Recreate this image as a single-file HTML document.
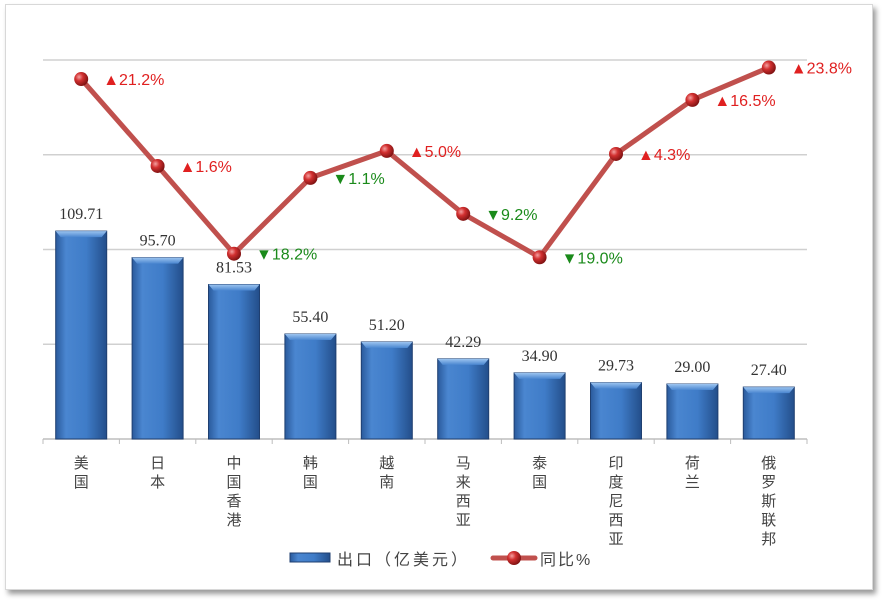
<!DOCTYPE html>
<html><head><meta charset="utf-8"><style>
body{margin:0;width:883px;height:602px;background:#fff;overflow:hidden;font-family:"Liberation Sans","Noto Sans CJK SC",sans-serif}
#frame{position:absolute;left:5px;top:4px;width:866px;height:584px;background:#fff;border:1px solid #d8d8d8;box-shadow:3px 4px 5px #9a9a9a}
svg{position:absolute;left:0;top:0}
</style></head><body>
<div id="frame"></div>
<svg id="c" width="883" height="602">
<defs>
<linearGradient id="bg" x1="0" x2="1" y1="0" y2="0">
<stop offset="0" stop-color="#2a5a9c"/><stop offset="0.2" stop-color="#4a86d0"/><stop offset="0.6" stop-color="#3f7cc8"/><stop offset="1" stop-color="#234e8a"/></linearGradient>
<linearGradient id="bt" x1="0" x2="0" y1="0" y2="1"><stop offset="0" stop-color="#9cc4f0"/><stop offset="1" stop-color="#4a86d0"/></linearGradient>
<radialGradient id="ball" cx="0.35" cy="0.35" r="0.7"><stop offset="0" stop-color="#f4a0a0"/><stop offset="0.4" stop-color="#d23030"/><stop offset="1" stop-color="#7a1010"/></radialGradient>
</defs>
</svg>
<script>
const categories=["美国","日本","中国香港","韩国","越南","马来西亚","泰国","印度尼西亚","荷兰","俄罗斯联邦"];
const exportValues=[109.71,95.70,81.53,55.40,51.20,42.29,34.90,29.73,29.00,27.40];
const growthValues=[21.2,1.6,-18.2,-1.1,5.0,-9.2,-19.0,4.3,16.5,23.8];
const gridTicks=[0,50,100,150,200];
const NS="http://www.w3.org/2000/svg";
const svg=document.getElementById('c');
const plotLeft=43,plotRight=807,base=439,plotTop=60;
const slot=(plotRight-plotLeft)/categories.length;
const yL=v=>base-(v/200)*(base-plotTop);
const g2min=-60,g2max=25.5;
const yR=v=>base-(v-g2min)/(g2max-g2min)*(base-plotTop);
const xC=i=>plotLeft+slot*(i+0.5);
function mk(t,a,p){const e=document.createElementNS(NS,t);for(const k in a)e.setAttribute(k,a[k]);(p||svg).appendChild(e);return e;}
gridTicks.forEach((t,i)=>{if(t===0)return;const l=mk('line',{x1:plotLeft,x2:plotRight,y1:yL(t),y2:yL(t),stroke:'#d0d0d0','stroke-width':1.5});

});
const ax=mk('line',{x1:plotLeft,x2:plotRight,y1:base,y2:base,stroke:'#bdbdbd','stroke-width':1.5});


for(let i=0;i<=categories.length;i++){const tk=mk('line',{x1:plotLeft+slot*i,x2:plotLeft+slot*i,y1:base,y2:base+5,stroke:'#bdbdbd'});

}
const bw=51;
exportValues.forEach((v,i)=>{const x=xC(i)-bw/2,y=yL(v);
const g=mk('g',{});


mk('rect',{x:x,y:y,width:bw,height:base-y,fill:'url(#bg)',stroke:'#1f3f70','stroke-width':1},g);
mk('polygon',{points:`${x},${y} ${x+bw},${y} ${x+bw-5},${y+6} ${x+5},${y+6}`,fill:'url(#bt)'},g);
const t=mk('text',{x:xC(i),y:y-12,'text-anchor':'middle','font-size':16,fill:'#333','font-family':'Liberation Serif,serif'});
t.textContent=v.toFixed(2);


const chars=[...categories[i]];
chars.forEach((ch,j)=>{const c=mk('text',{x:xC(i),y:468+j*19,'text-anchor':'middle','font-size':15,fill:'#444'});c.textContent=ch;

});
});
const pts=growthValues.map((v,i)=>xC(i)+','+yR(v)).join(' ');
const pl=mk('polyline',{points:pts,fill:'none',stroke:'#c0504d','stroke-width':5,'stroke-linejoin':'round'});


growthValues.forEach((v,i)=>{const cx=xC(i),cy=yR(v);
const c=mk('circle',{cx:cx,cy:cy,r:7,fill:'url(#ball)'});


const up=v>=0;
const t=mk('text',{x:cx+22,y:cy+6,'font-size':16,fill:up?'#e02020':'#1a8a1a'});
t.textContent=(up?'▲':'▼')+Math.abs(v).toFixed(1)+'%';

});
const lg=mk('g',{});


mk('rect',{x:290,y:553,width:40,height:9,fill:'url(#bg)',stroke:'#1f3f70'},lg);
const l1=mk('text',{x:337,y:565,'font-size':16,fill:'#444','letter-spacing':3},lg);l1.textContent='出口（亿美元）';


mk('line',{x1:493,x2:535,y1:558,y2:558,stroke:'#c0504d','stroke-width':5,'stroke-linecap':'round'},lg);
mk('circle',{cx:514,cy:558,r:7,fill:'url(#ball)'},lg);
const l2=mk('text',{x:540,y:565,'font-size':16,fill:'#444','letter-spacing':2},lg);l2.textContent='同比%';


</script>
</body></html>
